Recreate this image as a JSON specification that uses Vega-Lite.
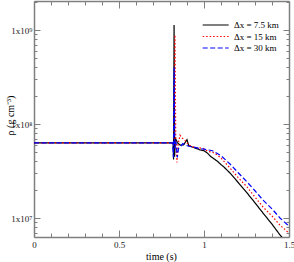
{
  "$schema": "https://vega.github.io/schema/vega-lite/v6.json",
  "width": 255,
  "height": 236,
  "autosize": {"type": "none"},
  "padding": {"left": 34, "top": 1, "right": 5, "bottom": 25},
  "background": "white",
  "config": {
    "view": {"stroke": null},
    "font": "Liberation Serif",
    "axis": {
      "grid": false,
      "domainColor": "#7f7f7f",
      "domainWidth": 1.5,
      "tickColor": "#7f7f7f",
      "tickWidth": 1,
      "labelFont": "Liberation Serif",
      "labelFontSize": 9,
      "labelColor": "#222222",
      "titleFont": "Liberation Serif",
      "titleFontSize": 10,
      "titleFontWeight": "normal",
      "titleColor": "#000000",
      "labelFlush": false,
      "labelOverlap": false
    }
  },
  "data": {
    "values": [
      {"t": 0, "rho": 6.3e7, "s": "Δx = 7.5 km"},
      {"t": 0.8, "rho": 6.3e7, "s": "Δx = 7.5 km"},
      {"t": 0.818, "rho": 6.3e7, "s": "Δx = 7.5 km"},
      {"t": 0.821, "rho": 4.2e7, "s": "Δx = 7.5 km"},
      {"t": 0.824, "rho": 1.13e9, "s": "Δx = 7.5 km"},
      {"t": 0.827, "rho": 4.5e7, "s": "Δx = 7.5 km"},
      {"t": 0.832, "rho": 7.0e7, "s": "Δx = 7.5 km"},
      {"t": 0.845, "rho": 6.3e7, "s": "Δx = 7.5 km"},
      {"t": 0.86, "rho": 5.95e7, "s": "Δx = 7.5 km"},
      {"t": 0.88, "rho": 6.0e7, "s": "Δx = 7.5 km"},
      {"t": 0.9, "rho": 6.8e7, "s": "Δx = 7.5 km"},
      {"t": 0.91, "rho": 5.9e7, "s": "Δx = 7.5 km"},
      {"t": 0.93, "rho": 5.7e7, "s": "Δx = 7.5 km"},
      {"t": 0.96, "rho": 5.45e7, "s": "Δx = 7.5 km"},
      {"t": 0.976, "rho": 5.3e7, "s": "Δx = 7.5 km"},
      {"t": 1.0, "rho": 5.2e7, "s": "Δx = 7.5 km"},
      {"t": 1.02, "rho": 4.9e7, "s": "Δx = 7.5 km"},
      {"t": 1.04, "rho": 4.5e7, "s": "Δx = 7.5 km"},
      {"t": 1.06, "rho": 4.25e7, "s": "Δx = 7.5 km"},
      {"t": 1.08, "rho": 4.0e7, "s": "Δx = 7.5 km"},
      {"t": 1.1, "rho": 3.7e7, "s": "Δx = 7.5 km"},
      {"t": 1.12, "rho": 3.45e7, "s": "Δx = 7.5 km"},
      {"t": 1.153, "rho": 3.01e7, "s": "Δx = 7.5 km"},
      {"t": 1.2, "rho": 2.4e7, "s": "Δx = 7.5 km"},
      {"t": 1.253, "rho": 1.85e7, "s": "Δx = 7.5 km"},
      {"t": 1.3, "rho": 1.45e7, "s": "Δx = 7.5 km"},
      {"t": 1.347, "rho": 1.13e7, "s": "Δx = 7.5 km"},
      {"t": 1.4, "rho": 8.6e6, "s": "Δx = 7.5 km"},
      {"t": 1.447, "rho": 6.6e6, "s": "Δx = 7.5 km"},
      {"t": 1.46, "rho": 6.2e6, "s": "Δx = 7.5 km"},

      {"t": 0, "rho": 6.3e7, "s": "Δx = 15 km"},
      {"t": 0.818, "rho": 6.3e7, "s": "Δx = 15 km"},
      {"t": 0.824, "rho": 6.0e7, "s": "Δx = 15 km"},
      {"t": 0.829, "rho": 8.85e8, "s": "Δx = 15 km"},
      {"t": 0.834, "rho": 6.5e7, "s": "Δx = 15 km"},
      {"t": 0.841, "rho": 3.9e7, "s": "Δx = 15 km"},
      {"t": 0.847, "rho": 6.0e7, "s": "Δx = 15 km"},
      {"t": 0.859, "rho": 7.6e7, "s": "Δx = 15 km"},
      {"t": 0.875, "rho": 7.0e7, "s": "Δx = 15 km"},
      {"t": 0.888, "rho": 6.7e7, "s": "Δx = 15 km"},
      {"t": 0.91, "rho": 6.0e7, "s": "Δx = 15 km"},
      {"t": 0.935, "rho": 5.7e7, "s": "Δx = 15 km"},
      {"t": 0.96, "rho": 5.6e7, "s": "Δx = 15 km"},
      {"t": 0.994, "rho": 5.5e7, "s": "Δx = 15 km"},
      {"t": 1.024, "rho": 5.1e7, "s": "Δx = 15 km"},
      {"t": 1.05, "rho": 5.0e7, "s": "Δx = 15 km"},
      {"t": 1.076, "rho": 4.7e7, "s": "Δx = 15 km"},
      {"t": 1.1, "rho": 4.35e7, "s": "Δx = 15 km"},
      {"t": 1.153, "rho": 3.4e7, "s": "Δx = 15 km"},
      {"t": 1.2, "rho": 2.7e7, "s": "Δx = 15 km"},
      {"t": 1.253, "rho": 2.14e7, "s": "Δx = 15 km"},
      {"t": 1.3, "rho": 1.67e7, "s": "Δx = 15 km"},
      {"t": 1.347, "rho": 1.31e7, "s": "Δx = 15 km"},
      {"t": 1.4, "rho": 1.05e7, "s": "Δx = 15 km"},
      {"t": 1.447, "rho": 8.4e6, "s": "Δx = 15 km"},
      {"t": 1.5, "rho": 6.9e6, "s": "Δx = 15 km"},

      {"t": 0, "rho": 6.3e7, "s": "Δx = 30 km"},
      {"t": 0.816, "rho": 6.3e7, "s": "Δx = 30 km"},
      {"t": 0.82, "rho": 4.4e7, "s": "Δx = 30 km"},
      {"t": 0.824, "rho": 4.0e8, "s": "Δx = 30 km"},
      {"t": 0.828, "rho": 5.5e7, "s": "Δx = 30 km"},
      {"t": 0.835, "rho": 6.5e7, "s": "Δx = 30 km"},
      {"t": 0.843, "rho": 4.4e7, "s": "Δx = 30 km"},
      {"t": 0.85, "rho": 5.5e7, "s": "Δx = 30 km"},
      {"t": 0.86, "rho": 5.7e7, "s": "Δx = 30 km"},
      {"t": 0.875, "rho": 6.2e7, "s": "Δx = 30 km"},
      {"t": 0.888, "rho": 6.0e7, "s": "Δx = 30 km"},
      {"t": 0.91, "rho": 5.8e7, "s": "Δx = 30 km"},
      {"t": 0.935, "rho": 5.7e7, "s": "Δx = 30 km"},
      {"t": 0.97, "rho": 5.5e7, "s": "Δx = 30 km"},
      {"t": 1.0, "rho": 5.4e7, "s": "Δx = 30 km"},
      {"t": 1.05, "rho": 5.2e7, "s": "Δx = 30 km"},
      {"t": 1.1, "rho": 4.6e7, "s": "Δx = 30 km"},
      {"t": 1.153, "rho": 3.75e7, "s": "Δx = 30 km"},
      {"t": 1.2, "rho": 3.05e7, "s": "Δx = 30 km"},
      {"t": 1.253, "rho": 2.42e7, "s": "Δx = 30 km"},
      {"t": 1.3, "rho": 1.95e7, "s": "Δx = 30 km"},
      {"t": 1.347, "rho": 1.55e7, "s": "Δx = 30 km"},
      {"t": 1.4, "rho": 1.25e7, "s": "Δx = 30 km"},
      {"t": 1.447, "rho": 1.0e7, "s": "Δx = 30 km"},
      {"t": 1.5, "rho": 8.2e6, "s": "Δx = 30 km"}
    ]
  },
  "layer": [
    {
      "mark": {"type": "line", "strokeWidth": 1.2, "clip": true},
      "encoding": {
        "x": {
          "field": "t", "type": "quantitative",
          "scale": {"domain": [0, 1.5], "nice": false, "zero": false},
          "axis": {
            "orient": "bottom",
            "title": "time (s)",
            "titleX": 127,
            "titleY": 19,
            "titleAlign": "center",
            "titleBaseline": "middle",
            "values": [0, 0.1, 0.2, 0.3, 0.4, 0.5, 0.6, 0.7, 0.8, 0.9, 1, 1.1, 1.2, 1.3, 1.4, 1.5],
            "labelExpr": "abs(datum.value*2-round(datum.value*2))<0.001 ? format(datum.value,'~g') : ''",
            "tickSize": {"condition": {"test": "abs(datum.value*2-round(datum.value*2))<0.001", "value": -7}, "value": -4},
            "labelPadding": 10
          }
        },
        "y": {
          "field": "rho", "type": "quantitative",
          "scale": {"type": "log", "domain": [6.28e6, 2.035e9], "nice": false, "zero": false},
          "axis": {
            "orient": "left",
            "title": "ρ (g cm⁻³)",
            "titleX": -24,
            "titleY": 114,
            "titleAngle": -90,
            "titleAlign": "center",
            "titleBaseline": "middle",
            "values": [7e6, 8e6, 9e6, 1e7, 2e7, 3e7, 4e7, 5e7, 6e7, 7e7, 8e7, 9e7, 1e8, 2e8, 3e8, 4e8, 5e8, 6e8, 7e8, 8e8, 9e8, 1e9, 2e9],
            "labelExpr": "datum.value==1e7 ? '1x10⁷' : datum.value==1e8 ? '1x10⁸' : datum.value==1e9 ? '1x10⁹' : ''",
            "tickSize": {"condition": {"test": "datum.value==1e7 || datum.value==1e8 || datum.value==1e9", "value": -6}, "value": -3},
            "labelPadding": 8
          }
        },
        "color": {
          "field": "s", "type": "nominal",
          "scale": {"domain": ["Δx = 7.5 km", "Δx = 15 km", "Δx = 30 km"], "range": ["#000000", "#ff0000", "#0000ff"]},
          "legend": {
            "title": null,
            "orient": "none",
            "legendX": 168,
            "legendY": 19,
            "padding": 0,
            "symbolType": "M-1,0H5",
            "symbolSize": 75,
            "symbolStrokeWidth": 1.2,
            "labelOffset": 22,
            "rowPadding": 1.5,
            "labelFont": "Liberation Serif",
            "labelFontSize": 9,
            "labelColor": "#000000"
          }
        },
        "strokeDash": {
          "field": "s", "type": "nominal",
          "scale": {"domain": ["Δx = 7.5 km", "Δx = 15 km", "Δx = 30 km"], "range": [[1, 0], [1.5, 2], [5, 2.5]]},
          "legend": {
            "title": null,
            "orient": "none",
            "legendX": 168,
            "legendY": 19,
            "padding": 0,
            "symbolType": "M-1,0H5",
            "symbolSize": 75,
            "symbolStrokeWidth": 1.2,
            "labelOffset": 22,
            "rowPadding": 1.5,
            "labelFont": "Liberation Serif",
            "labelFontSize": 9,
            "labelColor": "#000000"
          }
        }
      }
    },
    {
      "mark": {"type": "point", "opacity": 0},
      "encoding": {
        "x": {
          "field": "t", "type": "quantitative",
          "scale": {"domain": [0, 1.5], "nice": false, "zero": false},
          "axis": {
            "orient": "top",
            "title": null,
            "labels": false,
            "values": [0, 0.1, 0.2, 0.3, 0.4, 0.5, 0.6, 0.7, 0.8, 0.9, 1, 1.1, 1.2, 1.3, 1.4, 1.5],
            "tickSize": {"condition": {"test": "abs(datum.value*2-round(datum.value*2))<0.001", "value": -7}, "value": -4}
          }
        },
        "y": {
          "field": "rho", "type": "quantitative",
          "scale": {"type": "log", "domain": [6.28e6, 2.035e9], "nice": false, "zero": false},
          "axis": {
            "orient": "right",
            "title": null,
            "labels": false,
            "values": [7e6, 8e6, 9e6, 1e7, 2e7, 3e7, 4e7, 5e7, 6e7, 7e7, 8e7, 9e7, 1e8, 2e8, 3e8, 4e8, 5e8, 6e8, 7e8, 8e8, 9e8, 1e9, 2e9],
            "tickSize": {"condition": {"test": "datum.value==1e7 || datum.value==1e8 || datum.value==1e9", "value": -6}, "value": -3}
          }
        }
      }
    }
  ],
  "resolve": {"axis": {"x": "independent", "y": "independent"}}
}
